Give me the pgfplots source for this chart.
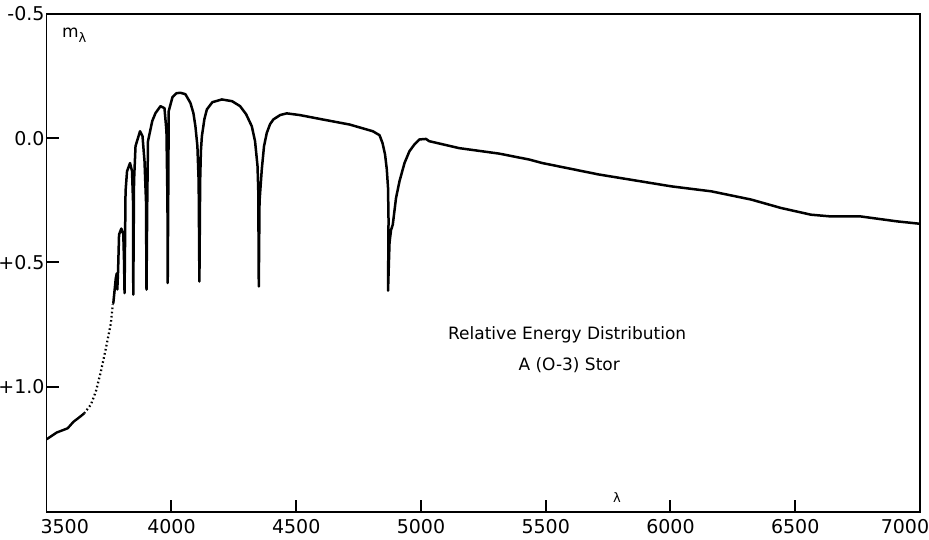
\documentclass[border=0pt]{standalone}
\usepackage{pgfplots}
\pgfplotsset{compat=1.18}
\usepackage{fontspec}
\setmainfont{DejaVu Sans}
\begin{document}
\fontsize{17pt}{20pt}\selectfont
\begin{tikzpicture}
\begin{axis}[
  at={(0pt,0pt)}, anchor=south west,
  scale only axis, width=873.3pt, height=498pt,
  xmin=3500, xmax=7000, ymin=-0.5, ymax=1.505,
  y dir=reverse,
  clip=false,
  axis line style={line width=1.5pt},
  major tick length=0pt,
  tick align=inside,
  xtick pos=bottom, ytick pos=left,
  xtick={3500,4000,4500,5000,5500,6000,6500,7000},
  xticklabels={\hspace*{36pt}3500,4000,4500,5000,5500,6000,6500,7000\hspace*{30pt}},
  ytick={-0.5,0,0.5,1.0},
  yticklabels={-0.5,0.0,+0.5,+1.0},
  tick label style={font=\fontsize{19pt}{20pt}\selectfont},
  yticklabel style={inner xsep=2pt},
  xticklabel style={inner ysep=7pt},
  /pgf/number format/assume math mode=true,
]
% tick marks, drawn inside the box
\pgfplotsinvokeforeach{4000,4500,5000,5500,6000,6500}{
  \draw[line width=2pt] (axis cs:#1,1.505) -- ++(0pt,12pt);
}
\pgfplotsinvokeforeach{0,0.5,1.0}{
  \draw[line width=2pt] (axis cs:3500,#1) -- ++(12pt,0pt);
}
% solid low part
\addplot[black, line width=2.4pt, line join=round] coordinates {
(3500,1.212) (3540,1.185) (3584,1.168) (3607,1.142) (3633,1.122) (3650,1.108)
};
% dotted part
\addplot[black, line width=2.2pt, dash pattern=on 1.6pt off 2.6pt] coordinates {
(3650,1.108) (3677,1.073) (3697,1.020) (3717,0.940) (3737,0.847) (3757,0.746) (3765,0.669)
};
% main curve
\addplot[black, line width=2.5pt, line join=round, line cap=round] coordinates {
(3767,0.664) (3777,0.563) (3781,0.544) (3783,0.609) (3786,0.536) (3790,0.388)
(3799,0.364) (3807,0.387) (3810,0.496) (3812,0.624) (3816,0.214) (3822,0.133)
(3834,0.100) (3842,0.133) (3846,0.254) (3847,0.630) (3850,0.173) (3856,0.032)
(3874,-0.028) (3884,-0.008) (3892,0.093) (3898,0.254) (3900,0.610) (3903,0.254)
(3906,0.012) (3923,-0.069) (3936,-0.101) (3956,-0.129) (3972,-0.121) (3980,-0.028)
(3984,0.254) (3985,0.583) (3987,0.254) (3989,-0.109) (4004,-0.165) (4020,-0.181)
(4036,-0.183) (4056,-0.177) (4076,-0.142) (4088,-0.101) (4096,-0.048) (4104,0.032)
(4109,0.173) (4112,0.577) (4115,0.173) (4118,0.052) (4122,-0.008) (4132,-0.077)
(4142,-0.116) (4164,-0.145) (4202,-0.156) (4243,-0.149) (4275,-0.129) (4299,-0.097)
(4322,-0.048) (4335,0.012) (4345,0.113) (4348,0.214) (4350,0.597) (4353,0.254)
(4362,0.126) (4371,0.032) (4382,-0.021) (4395,-0.056) (4408,-0.075) (4435,-0.093)
(4462,-0.100) (4515,-0.093) (4608,-0.075) (4714,-0.055) (4807,-0.028) (4834,-0.012)
(4846,0.020) (4856,0.065) (4863,0.125) (4868,0.200) (4870,0.330) (4868,0.614)
(4874,0.420) (4880,0.370) (4887,0.348) (4900,0.241) (4914,0.173) (4934,0.100)
(4954,0.052) (4974,0.025) (4994,0.005) (5020,0.003) (5033,0.012) (5153,0.040)
(5313,0.062) (5434,0.086) (5486,0.100) (5712,0.146) (6004,0.194) (6164,0.214)
(6323,0.247) (6443,0.281) (6563,0.308) (6643,0.315) (6762,0.315) (6909,0.335)
(6995,0.344)
};
\node[anchor=base west, inner sep=0pt] at (axis cs:3561,-0.407) {m\raisebox{-5pt}{\fontsize{13pt}{13pt}\selectfont λ}};
\node[inner sep=0pt, font=\fontsize{13pt}{13pt}\selectfont] at (axis cs:5786,1.445) {λ};
\node[inner sep=0pt] at (axis cs:5586,0.792) {Relative Energy Distribution};
\node[inner sep=0pt] at (axis cs:5594,0.913) {A (O-3) Stor};
\end{axis}
\pgfresetboundingbox
\path[use as bounding box] (-46.7pt,-27pt) rectangle (882.3pt,512pt);
\end{tikzpicture}
\end{document}
